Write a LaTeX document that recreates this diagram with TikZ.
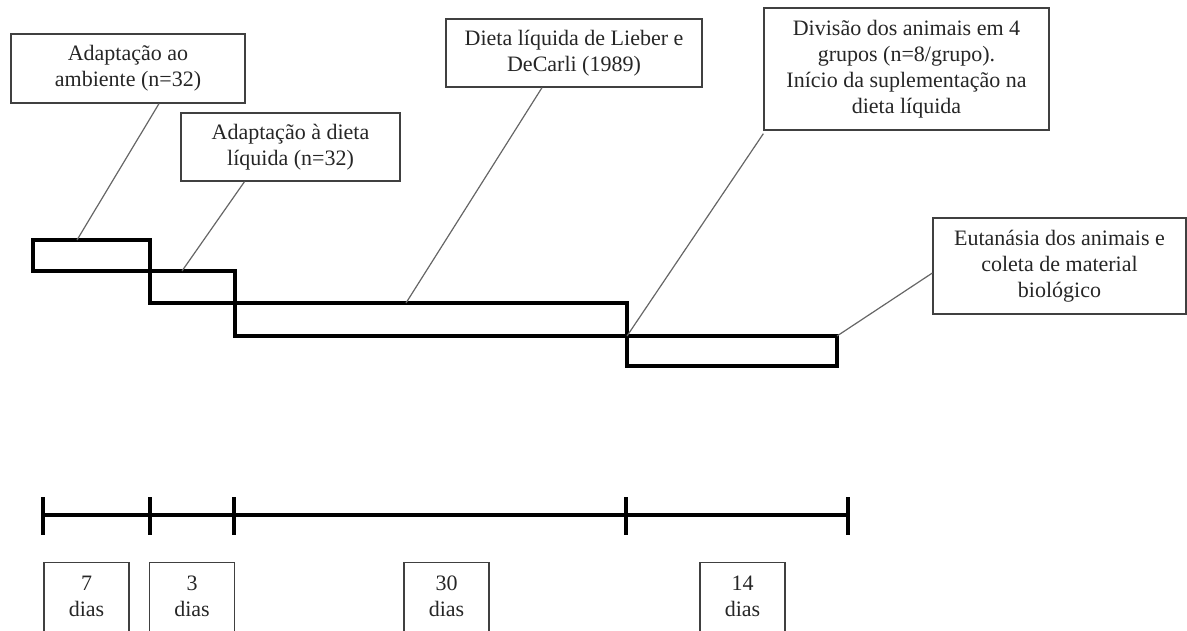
\documentclass[tikz,border=0pt]{standalone}
\usepackage{fontspec}
\setmainfont{Liberation Serif}
\begin{document}
\begin{tikzpicture}[x=1pt, y=-1pt,
  labelbox/.style={draw=black!75, line width=1.3pt, rectangle, align=center, inner sep=0pt, text=black!85, font=\fontsize{22}{26}\selectfont},
  daybox/.style={draw=black!75, line width=1.3pt, rectangle, align=center, anchor=north, minimum width=85pt, inner xsep=0pt, inner ysep=13pt, text depth=80pt, text=black!85, font=\fontsize{22}{26}\selectfont},
  bar/.style={line width=4pt},
  leader/.style={draw=black!60, line width=1.2pt}]

\useasboundingbox (0,0) rectangle (1187,630);
\clip (0,0) rectangle (1187,630);

% label boxes
\node (ambiente) [labelbox, minimum width=234pt, minimum height=69pt] at (128,68.5) {Adaptação ao\\ambiente (n=32)};
\node (adaptdieta) [labelbox, minimum width=219pt, minimum height=68pt] at (290.5,147) {Adaptação à dieta\\líquida (n=32)};
\node (lieber) [labelbox, minimum width=256pt, minimum height=68pt] at (574,53) {Dieta líquida de Lieber e\\DeCarli (1989)};
\node (divisao) [labelbox, minimum width=285pt, minimum height=122pt] at (906.5,69) {Divisão dos animais em 4\\grupos (n=8/grupo).\\Início da suplementação na\\dieta líquida};
\node (eutanasia) [labelbox, minimum width=253pt, minimum height=96pt] at (1059.5,266) {Eutanásia dos animais e\\coleta de material\\biológico};

% staircase of phases
\draw[bar] (33,240) rectangle (150,271);
\draw[bar] (150,271) rectangle (235,303);
\draw[bar] (235,303) rectangle (627,336);
\draw[bar] (627,336) rectangle (837,366);

\coordinate (e1) at (77,240);
\coordinate (e2) at (182,271);
\coordinate (e3) at (406,303);
\coordinate (e4) at (627,336);
\coordinate (e5) at (837,336);

\draw[leader] ([xshift=31pt]ambiente.south) -- (e1);
\draw[leader] ([xshift=-46pt]adaptdieta.south) -- (e2);
\draw[leader] ([xshift=-32pt]lieber.south) -- (e3);
\draw[leader] ([yshift=-3pt]divisao.south west) -- (e4);
\draw[leader] ([yshift=-7pt]eutanasia.west) -- (e5);

% timeline
\foreach \i/\x in {0/43,1/150,2/234,3/626,4/848}
  \coordinate (t\i) at (\x,515);
\draw[bar] (t0) -- (t4);
\foreach \i in {0,...,4}
  \draw[bar] ([yshift=18pt]t\i) -- ([yshift=-20pt]t\i);

% durations
\node (d7) [daybox] at (86.5,562) {7\\dias};
\node (d3) [daybox] at (192,562) {3\\dias};
\node (d30) [daybox] at (446.5,562) {30\\dias};
\node (d14) [daybox] at (742.5,562) {14\\dias};

\end{tikzpicture}
\end{document}
